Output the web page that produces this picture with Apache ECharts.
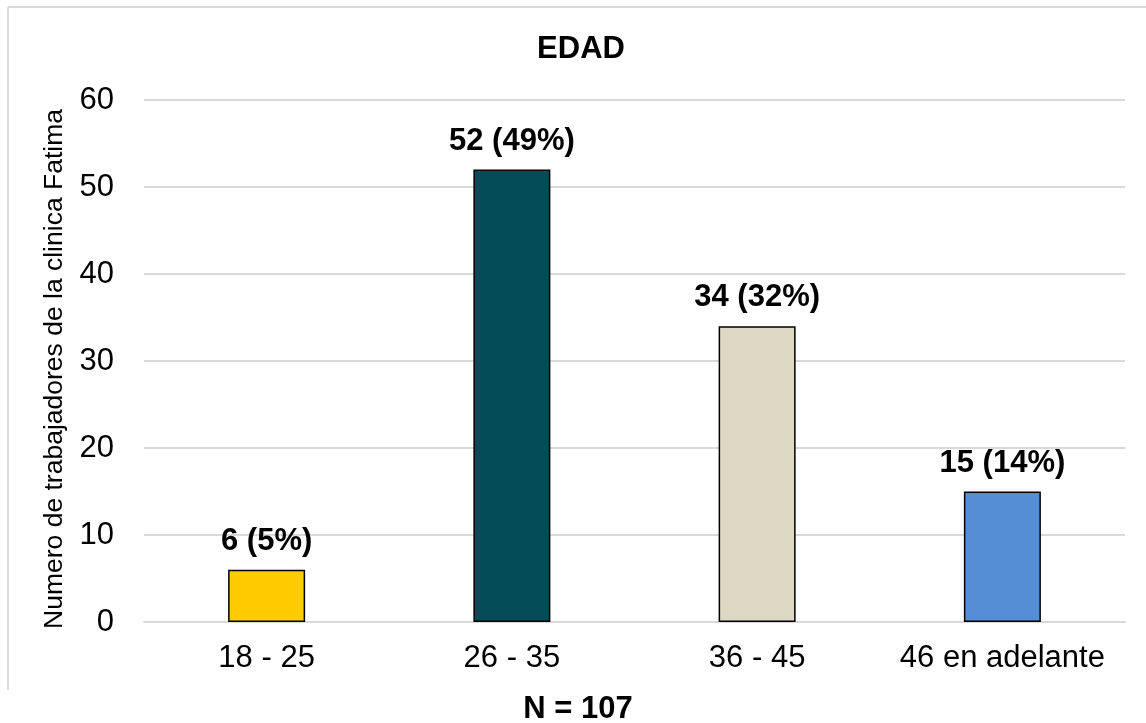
<!DOCTYPE html>
<html>
<head>
<meta charset="utf-8">
<script src="https://cdn.jsdelivr.net/npm/echarts@6/dist/echarts.min.js"></script>
<style>
html,body{margin:0;padding:0;background:#fff;overflow:hidden;}
#chart{width:1146px;height:723px;}
</style>
</head>
<body>
<div id="chart"></div>
<script>
var categories = ['18 - 25', '26 - 35', '36 - 45', '46 en adelante'];
var values = [6, 52, 34, 15];
var percents = [5, 49, 32, 14];
var colors = ['#FFCC00', '#024B57', '#DDD8C4', '#558ED5'];
var yTicks = [0, 10, 20, 30, 40, 50, 60];
var titleText = 'EDAD';
var yName = 'Numero de trabajadores de la clinica Fatima';
var xName = 'N = 107';

var font = '"Liberation Sans", Arial, sans-serif';
var chart = echarts.init(document.getElementById('chart'), null, {renderer: 'canvas', width: 1146, height: 723});

var option = {
  animation: false,
  backgroundColor: '#fff',
  title: {
    text: titleText,
    left: 576,
    textAlign: 'center',
    top: 29,
    textStyle: {fontFamily: font, fontSize: 31, fontWeight: 'bold', color: '#000'}
  },
  grid: {left: 144, right: 21, top: 100, bottom: 101, containLabel: false, outerBoundsMode: 'none'},
  xAxis: {
    type: 'category',
    data: categories,
    axisLine: {show: true, lineStyle: {color: '#d9d9d9', width: 2}},
    axisTick: {show: false},
    axisLabel: {interval: 0, fontFamily: font, fontSize: 31, color: '#000', margin: 21}
  },
  yAxis: {
    type: 'value',
    min: yTicks[0],
    max: yTicks[yTicks.length - 1],
    interval: 10,
    name: yName,
    nameLocation: 'middle',
    nameGap: 65,
    nameRotate: 90,
    nameTextStyle: {fontFamily: font, fontSize: 26.5, color: '#000', padding: [0, 16, 0, 0]},
    axisLine: {show: false},
    axisTick: {show: false},
    axisLabel: {fontFamily: font, fontSize: 31, color: '#000', margin: 30},
    splitLine: {show: true, lineStyle: {color: '#d9d9d9', width: 2}}
  },
  series: [{
    type: 'bar',
    barWidth: 77,
    data: values.map(function (v, i) {
      return {value: v, itemStyle: {color: colors[i]}};
    }),
    itemStyle: {borderColor: '#000', borderWidth: 1.5},
    label: {
      show: true,
      position: 'top',
      distance: 13,
      fontFamily: font,
      fontSize: 31,
      fontWeight: 'bold',
      color: '#000',
      formatter: function (p) { return p.value + ' (' + percents[p.dataIndex] + '%)'; }
    }
  }],
  graphic: [
    {type: 'line', shape: {x1: 8, y1: 7, x2: 1146, y2: 7}, style: {stroke: '#d9d9d9', lineWidth: 2}, silent: true},
    {type: 'line', shape: {x1: 8, y1: 7, x2: 8, y2: 690}, style: {stroke: '#d9d9d9', lineWidth: 2}, silent: true},
    {type: 'text', x: 578, y: 709, silent: true,
      style: {text: xName, fontFamily: font, fontSize: 31, fontWeight: 'bold', fill: '#000', align: 'center', verticalAlign: 'middle'}}
  ]
};
chart.setOption(option);
</script>
</body>
</html>
